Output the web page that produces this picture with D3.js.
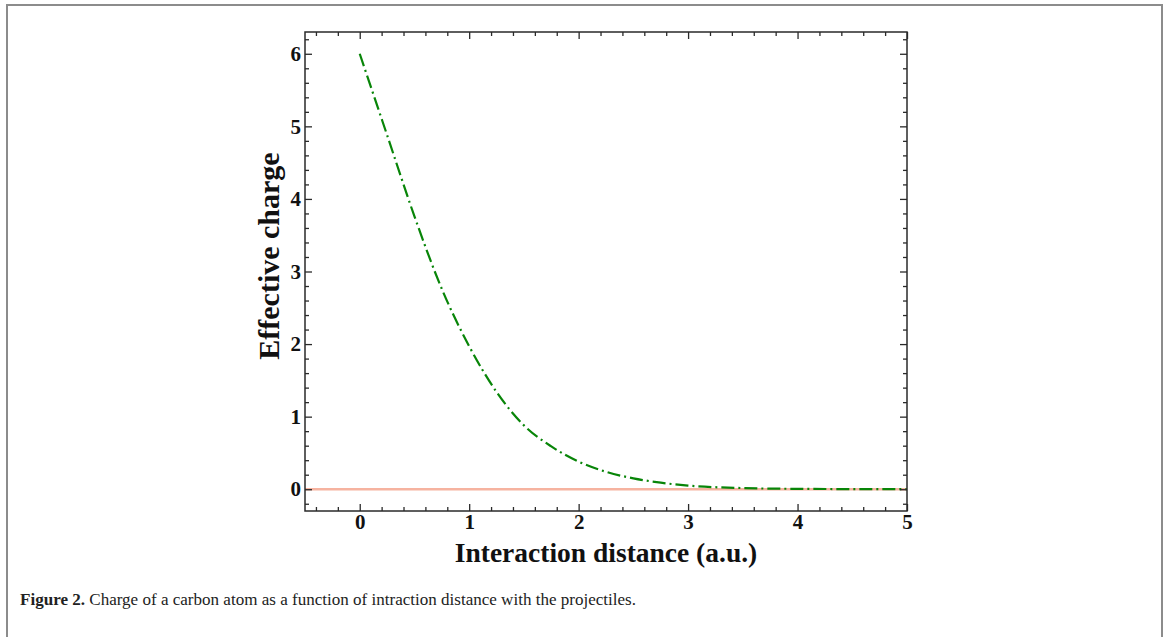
<!DOCTYPE html>
<html><head><meta charset="utf-8">
<script src="https://cdn.jsdelivr.net/npm/d3@7"></script>
<style>
html,body{margin:0;padding:0;background:#fff;}
svg{display:block;}
</style></head>
<body>
<svg id="chart" width="1172" height="637"></svg>
<script>
// Data
const distance = [0, 0.25, 0.5, 0.75, 1.0, 1.25, 1.5, 1.75, 2.0, 2.25, 2.5, 2.75, 3.0, 3.5, 4.0, 4.5, 5.0];
const effCharge = [6.0, 4.88, 3.76, 2.76, 1.97, 1.34, 0.88, 0.59, 0.38, 0.24, 0.15, 0.09, 0.05, 0.016, 0.005, 0.002, 0.0];
const zeroLineX = [-0.5, 5];
const zeroLineY = [0, 0];
const xTicks = [0, 1, 2, 3, 4, 5];
const yTicks = [0, 1, 2, 3, 4, 5, 6];
const xLabel = "Interaction distance (a.u.)";
const yLabel = "Effective charge";
const captionBold = "Figure 2.";
const captionText = " Charge of a carbon atom as a function of intraction distance with the projectiles.";

const svg = d3.select("#chart");
// outer frame
svg.append("rect").attr("x", 7).attr("y", 5).attr("width", 1155).attr("height", 700)
  .attr("fill", "none").attr("stroke", "#8c8c8c").attr("stroke-width", 2);

const L = 305, R = 907, T = 32, B = 511;
const x = d3.scaleLinear().domain([-0.5, 5]).range([L, R]);
const y = d3.scaleLinear().domain([-0.3, 6.3]).range([B, T]);

const g = svg.append("g");
const font = "'Liberation Serif','Times New Roman',serif";

// zero line (salmon)
g.append("path")
  .datum(zeroLineX.map((d, i) => [d, zeroLineY[i]]))
  .attr("d", d3.line().x(d => x(d[0])).y(d => y(d[1])))
  .attr("fill", "none").attr("stroke", "#f6b3a0").attr("stroke-width", 2.5);

// effective charge curve
g.append("path")
  .datum(distance.map((d, i) => [d, effCharge[i]]))
  .attr("d", d3.line().curve(d3.curveMonotoneX).x(d => x(d[0])).y(d => y(d[1])))
  .attr("fill", "none").attr("stroke", "#088508").attr("stroke-width", 2.2)
  .attr("stroke-dasharray", "13,4,2,4");

// axes: ticks inward on all sides
const xMinor = d3.range(-0.4, 5.0001, 0.2).filter(v => Math.abs(v - Math.round(v)) > 1e-6);
const yMinor = d3.range(-0.2, 6.3, 0.2).filter(v => Math.abs(v - Math.round(v)) > 1e-6);
const axisColor = "#2a2a2a";

function styleAxis(sel) {
  sel.select(".domain").remove();
  sel.selectAll("line").attr("stroke", axisColor).attr("stroke-width", 1.3);
}
function styleText(sel) {
  sel.selectAll("text").attr("font-family", font).attr("font-weight", "bold")
    .attr("font-size", 21).attr("fill", "#111");
}
// bottom
g.append("g").attr("transform", `translate(0,${B})`)
  .call(d3.axisBottom(x).tickValues(xTicks).tickSize(-7).tickPadding(3).tickFormat(d3.format("d")))
  .call(styleAxis).call(styleText);
g.append("g").attr("transform", `translate(0,${B})`)
  .call(d3.axisBottom(x).tickValues(xMinor).tickSize(-4).tickFormat(""))
  .call(styleAxis);
// top
g.append("g").attr("transform", `translate(0,${T})`)
  .call(d3.axisTop(x).tickValues(xTicks).tickSize(-7).tickFormat(""))
  .call(styleAxis);
g.append("g").attr("transform", `translate(0,${T})`)
  .call(d3.axisTop(x).tickValues(xMinor).tickSize(-4).tickFormat(""))
  .call(styleAxis);
// left
g.append("g").attr("transform", `translate(${L},0)`)
  .call(d3.axisLeft(y).tickValues(yTicks).tickSize(-7).tickPadding(4).tickFormat(d3.format("d")))
  .call(styleAxis).call(styleText);
g.append("g").attr("transform", `translate(${L},0)`)
  .call(d3.axisLeft(y).tickValues(yMinor).tickSize(-4).tickFormat(""))
  .call(styleAxis);
// right
g.append("g").attr("transform", `translate(${R},0)`)
  .call(d3.axisRight(y).tickValues(yTicks).tickSize(-7).tickFormat(""))
  .call(styleAxis);
g.append("g").attr("transform", `translate(${R},0)`)
  .call(d3.axisRight(y).tickValues(yMinor).tickSize(-4).tickFormat(""))
  .call(styleAxis);

// frame
g.append("rect").attr("x", L).attr("y", T).attr("width", R - L).attr("height", B - T)
  .attr("fill", "none").attr("stroke", axisColor).attr("stroke-width", 1.5);

// axis labels
svg.append("text").attr("x", (L + R) / 2).attr("y", 562).attr("text-anchor", "middle")
  .attr("font-family", font).attr("font-weight", "bold").attr("font-size", 27.5).attr("fill", "#111")
  .text(xLabel);
svg.append("text").attr("transform", `translate(279,256) rotate(-90)`).attr("text-anchor", "middle")
  .attr("font-family", font).attr("font-weight", "bold").attr("font-size", 30).attr("fill", "#111")
  .text(yLabel);

// caption
const cap = svg.append("text").attr("x", 20).attr("y", 605)
  .attr("font-family", font).attr("font-size", 16.5).attr("fill", "#222")
  .attr("textLength", 616).attr("lengthAdjust", "spacingAndGlyphs");
cap.append("tspan").attr("font-weight", "bold").text(captionBold);
cap.append("tspan").text(captionText);
</script>
</body></html>
